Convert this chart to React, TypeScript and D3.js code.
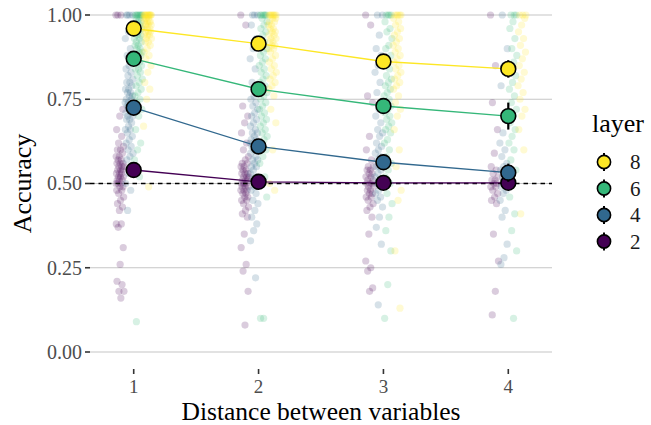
import React from 'react'
import * as d3 from 'd3'

const distances = [1, 2, 3, 4]
const layers = [2, 4, 6, 8]
const layerColors = ['#440154', '#31688E', '#35B779', '#FDE725']
const yTicks = [0, 0.25, 0.5, 0.75, 1]

// mean accuracy per layer, one value per distance
const meanL2 = [0.54, 0.505, 0.502, 0.502]
const meanL4 = [0.725, 0.61, 0.563, 0.532]
const meanL6 = [0.87, 0.78, 0.73, 0.70]
const meanL8 = [0.96, 0.915, 0.862, 0.84]

// standard errors
const errL2 = [0.008, 0.006, 0.006, 0.01]
const errL4 = [0.012, 0.015, 0.018, 0.027]
const errL6 = [0.012, 0.015, 0.02, 0.04]
const errL8 = [0.01, 0.012, 0.015, 0.026]

// single runs, one list per distance
const runsL2 = [
  [1, 1, 1, 0.72, 0.7, 0.66, 0.64, 0.62, 0.61, 0.6, 0.6, 0.59, 0.58, 0.58, 0.57, 0.57, 0.56, 0.56, 0.56, 0.55, 0.55, 0.55, 0.54, 0.54, 0.54, 0.53, 0.53, 0.53, 0.52, 0.52, 0.52, 0.51, 0.51, 0.51, 0.5, 0.5, 0.5, 0.49, 0.49, 0.48, 0.48, 0.47, 0.46, 0.45, 0.44, 0.43, 0.42, 0.38, 0.38, 0.37, 0.31, 0.26, 0.21, 0.2, 0.18, 0.18, 0.16],
  [1, 0.97, 0.73, 0.7, 0.68, 0.65, 0.62, 0.6, 0.58, 0.57, 0.56, 0.56, 0.55, 0.55, 0.54, 0.54, 0.53, 0.53, 0.53, 0.52, 0.52, 0.52, 0.51, 0.51, 0.51, 0.5, 0.5, 0.5, 0.5, 0.49, 0.49, 0.49, 0.48, 0.48, 0.48, 0.47, 0.47, 0.46, 0.46, 0.45, 0.45, 0.44, 0.43, 0.42, 0.41, 0.4, 0.35, 0.31, 0.26, 0.24, 0.18, 0.08],
  [1, 0.97, 0.76, 0.74, 0.64, 0.6, 0.57, 0.55, 0.55, 0.54, 0.54, 0.53, 0.53, 0.52, 0.52, 0.51, 0.51, 0.5, 0.5, 0.5, 0.49, 0.49, 0.48, 0.48, 0.47, 0.47, 0.46, 0.46, 0.45, 0.44, 0.43, 0.42, 0.4, 0.35, 0.27, 0.25, 0.24, 0.19, 0.18],
  [1, 0.85, 0.74, 0.66, 0.59, 0.55, 0.54, 0.53, 0.52, 0.51, 0.51, 0.5, 0.5, 0.49, 0.49, 0.48, 0.47, 0.46, 0.45, 0.44, 0.35, 0.27, 0.18, 0.11],
]
const runsL4 = [
  [1, 1, 1, 1, 0.97, 0.95, 0.93, 0.9, 0.88, 0.86, 0.85, 0.84, 0.83, 0.82, 0.81, 0.8, 0.8, 0.79, 0.78, 0.78, 0.77, 0.77, 0.76, 0.76, 0.75, 0.75, 0.74, 0.74, 0.73, 0.73, 0.72, 0.72, 0.71, 0.71, 0.7, 0.7, 0.69, 0.69, 0.68, 0.67, 0.66, 0.66, 0.65, 0.64, 0.63, 0.62, 0.61, 0.6, 0.59, 0.58, 0.57, 0.55, 0.53, 0.5, 0.48, 0.42],
  [1, 1, 1, 0.97, 0.93, 0.9, 0.87, 0.84, 0.8, 0.78, 0.76, 0.75, 0.74, 0.73, 0.72, 0.71, 0.7, 0.69, 0.68, 0.67, 0.66, 0.65, 0.65, 0.64, 0.63, 0.63, 0.62, 0.62, 0.61, 0.61, 0.6, 0.6, 0.59, 0.58, 0.57, 0.57, 0.56, 0.55, 0.55, 0.54, 0.53, 0.52, 0.51, 0.5, 0.49, 0.48, 0.47, 0.45, 0.44, 0.42, 0.4, 0.38, 0.36, 0.33, 0.22],
  [1, 1, 0.94, 0.9, 0.88, 0.85, 0.83, 0.8, 0.77, 0.74, 0.72, 0.7, 0.68, 0.66, 0.65, 0.64, 0.62, 0.61, 0.6, 0.59, 0.58, 0.57, 0.56, 0.55, 0.55, 0.54, 0.53, 0.52, 0.51, 0.5, 0.49, 0.48, 0.47, 0.46, 0.45, 0.43, 0.4, 0.37, 0.32, 0.14],
  [1, 0.9, 0.85, 0.79, 0.7, 0.65, 0.62, 0.6, 0.58, 0.56, 0.55, 0.54, 0.53, 0.52, 0.51, 0.5, 0.49, 0.48, 0.47, 0.45, 0.42, 0.4, 0.32, 0.28, 0.26],
]
const runsL6 = [
  [1, 1, 1, 1, 1, 1, 1, 1, 0.99, 0.99, 0.98, 0.98, 0.97, 0.97, 0.96, 0.96, 0.95, 0.95, 0.94, 0.94, 0.93, 0.93, 0.92, 0.92, 0.91, 0.91, 0.9, 0.9, 0.89, 0.89, 0.88, 0.88, 0.87, 0.87, 0.86, 0.86, 0.85, 0.84, 0.84, 0.83, 0.82, 0.81, 0.8, 0.79, 0.78, 0.77, 0.76, 0.75, 0.74, 0.72, 0.7, 0.66, 0.62, 0.6, 0.57, 0.52, 0.09],
  [1, 1, 1, 1, 1, 1, 0.99, 0.98, 0.97, 0.96, 0.95, 0.94, 0.93, 0.92, 0.91, 0.9, 0.89, 0.88, 0.87, 0.86, 0.85, 0.84, 0.83, 0.82, 0.81, 0.8, 0.79, 0.78, 0.77, 0.76, 0.75, 0.74, 0.73, 0.72, 0.71, 0.7, 0.69, 0.68, 0.67, 0.66, 0.65, 0.64, 0.63, 0.62, 0.6, 0.58, 0.56, 0.52, 0.5, 0.46, 0.1, 0.1],
  [1, 1, 1, 1, 0.98, 0.96, 0.95, 0.93, 0.91, 0.9, 0.88, 0.87, 0.85, 0.84, 0.82, 0.81, 0.8, 0.79, 0.78, 0.77, 0.76, 0.75, 0.74, 0.73, 0.72, 0.71, 0.7, 0.69, 0.68, 0.67, 0.66, 0.65, 0.63, 0.62, 0.6, 0.58, 0.56, 0.54, 0.52, 0.5, 0.47, 0.44, 0.4, 0.36, 0.3, 0.2, 0.1],
  [1, 1, 1, 0.98, 0.96, 0.93, 0.9, 0.88, 0.86, 0.84, 0.82, 0.8, 0.78, 0.76, 0.74, 0.72, 0.7, 0.68, 0.66, 0.64, 0.62, 0.6, 0.57, 0.54, 0.5, 0.46, 0.41, 0.36, 0.3, 0.1],
]
const runsL8 = [
  [1, 1, 1, 1, 1, 1, 1, 1, 1, 1, 1, 1, 0.99, 0.99, 0.99, 0.99, 0.98, 0.98, 0.98, 0.98, 0.97, 0.97, 0.97, 0.97, 0.96, 0.96, 0.96, 0.95, 0.95, 0.95, 0.94, 0.94, 0.94, 0.93, 0.93, 0.92, 0.92, 0.91, 0.9, 0.89, 0.88, 0.87, 0.85, 0.83, 0.8, 0.78, 0.75, 0.67, 0.49],
  [1, 1, 1, 1, 1, 1, 1, 1, 0.99, 0.99, 0.98, 0.98, 0.97, 0.97, 0.96, 0.96, 0.95, 0.95, 0.94, 0.94, 0.93, 0.93, 0.92, 0.92, 0.91, 0.91, 0.9, 0.9, 0.89, 0.88, 0.87, 0.86, 0.85, 0.84, 0.83, 0.82, 0.81, 0.8, 0.79, 0.78, 0.76, 0.72, 0.68, 0.6, 0.5, 0.48],
  [1, 1, 1, 1, 1, 0.99, 0.98, 0.97, 0.96, 0.95, 0.94, 0.93, 0.92, 0.91, 0.9, 0.89, 0.88, 0.87, 0.86, 0.85, 0.84, 0.83, 0.82, 0.81, 0.8, 0.79, 0.78, 0.76, 0.74, 0.72, 0.7, 0.66, 0.6, 0.55, 0.48, 0.45, 0.3, 0.13],
  [1, 1, 1, 0.99, 0.97, 0.95, 0.93, 0.91, 0.89, 0.87, 0.85, 0.83, 0.81, 0.79, 0.77, 0.75, 0.72, 0.7, 0.66, 0.6, 0.41],
]

const means = [meanL2, meanL4, meanL6, meanL8]
const errs = [errL2, errL4, errL6, errL8]
const runs = [runsL2, runsL4, runsL6, runsL8]

const FONT = '"Liberation Serif", "DejaVu Serif", serif'

export default function App() {
  const x = d3.scaleLinear().domain([0.65, 4.35]).range([90, 552])
  const y = d3.scaleLinear().domain([0, 1]).range([352, 15])

  // dodge per layer + a deterministic spread inside each group
  const dodge = [-0.11, -0.037, 0.037, 0.11]
  const spread = (i: number) => (((i * 0.618034) % 1) - 0.5) * 0.065

  const line = d3.line<number>()
    .x((_, i) => x(distances[i]))
    .y(v => y(v))

  return (
    <svg width={651} height={425} style={{ position: 'absolute', left: 0, top: 0 }}
      fontFamily={FONT}>
      {/* grid */}
      {yTicks.map(t => (
        <g key={t}>
          <line x1={90} x2={552} y1={y(t)} y2={y(t)} stroke="#C6C6C6" strokeWidth={1.1} />
          <line x1={85} x2={90} y1={y(t)} y2={y(t)} stroke="#333" strokeWidth={1.6} />
          <text x={82} y={y(t)} dy="0.34em" textAnchor="end" fontSize={20} fill="#4D4D4D"
            fontFamily={FONT}>
            {d3.format('.2f')(t)}
          </text>
        </g>
      ))}
      {distances.map(d => (
        <g key={d}>
          <line x1={x(d)} x2={x(d)} y1={369} y2={374} stroke="#333" strokeWidth={1.6} />
          <text x={x(d)} y={393} textAnchor="middle" fontSize={19} fill="#4D4D4D"
            fontFamily={FONT}>{d}</text>
        </g>
      ))}

      {/* raw runs */}
      {runs.map((byDist, k) => byDist.map((vals, di) => vals.map((v, i) => (
        <circle key={`${k}-${di}-${i}`} cx={x(distances[di] + dodge[k] + spread(i + k * 7))}
          cy={y(v)} r={3.6} fill={layerColors[k]} fillOpacity={0.2} />
      ))))}

      <line x1={90} x2={552} y1={y(0.5)} y2={y(0.5)} stroke="#000" strokeWidth={1.3}
        strokeDasharray="4.5,4" />

      {/* mean lines */}
      {means.map((m, k) => (
        <path key={k} d={line(m) ?? ''} fill="none" stroke={layerColors[k]} strokeWidth={1.3} />
      ))}
      {means.map((m, k) => m.map((v, di) => (
        <g key={`${k}-${di}`}>
          <line x1={x(distances[di])} x2={x(distances[di])}
            y1={y(v - errs[k][di])} y2={y(v + errs[k][di])}
            stroke="#000" strokeWidth={2.2} />
          <circle cx={x(distances[di])} cy={y(v)} r={7.4} fill={layerColors[k]}
            stroke="#000" strokeWidth={1.6} />
        </g>
      )))}

      {/* axis titles */}
      <text x={321} y={419.5} textAnchor="middle" fontSize={25.5} fill="#000">
        Distance between variables
      </text>
      <text transform={`translate(31, ${y(0.5)}) rotate(-90)`} textAnchor="middle"
        fontSize={26} fill="#000">Accuracy</text>

      {/* legend */}
      <text x={592} y={132} fontSize={26} fill="#000">layer</text>
      {[...layers].reverse().map((l, j) => {
        const k = layers.length - 1 - j
        const cy = 162 + j * 26.5
        return (
          <g key={l}>
            <line x1={604} x2={604} y1={cy - 9} y2={cy + 9} stroke="#000" strokeWidth={2} />
            <circle cx={604} cy={cy} r={6.6} fill={layerColors[k]} stroke="#000" strokeWidth={1.6} />
            <text x={630} y={cy} dy="0.34em" fontSize={21} fill="#1A1A1A">{l}</text>
          </g>
        )
      })}
    </svg>
  )
}
